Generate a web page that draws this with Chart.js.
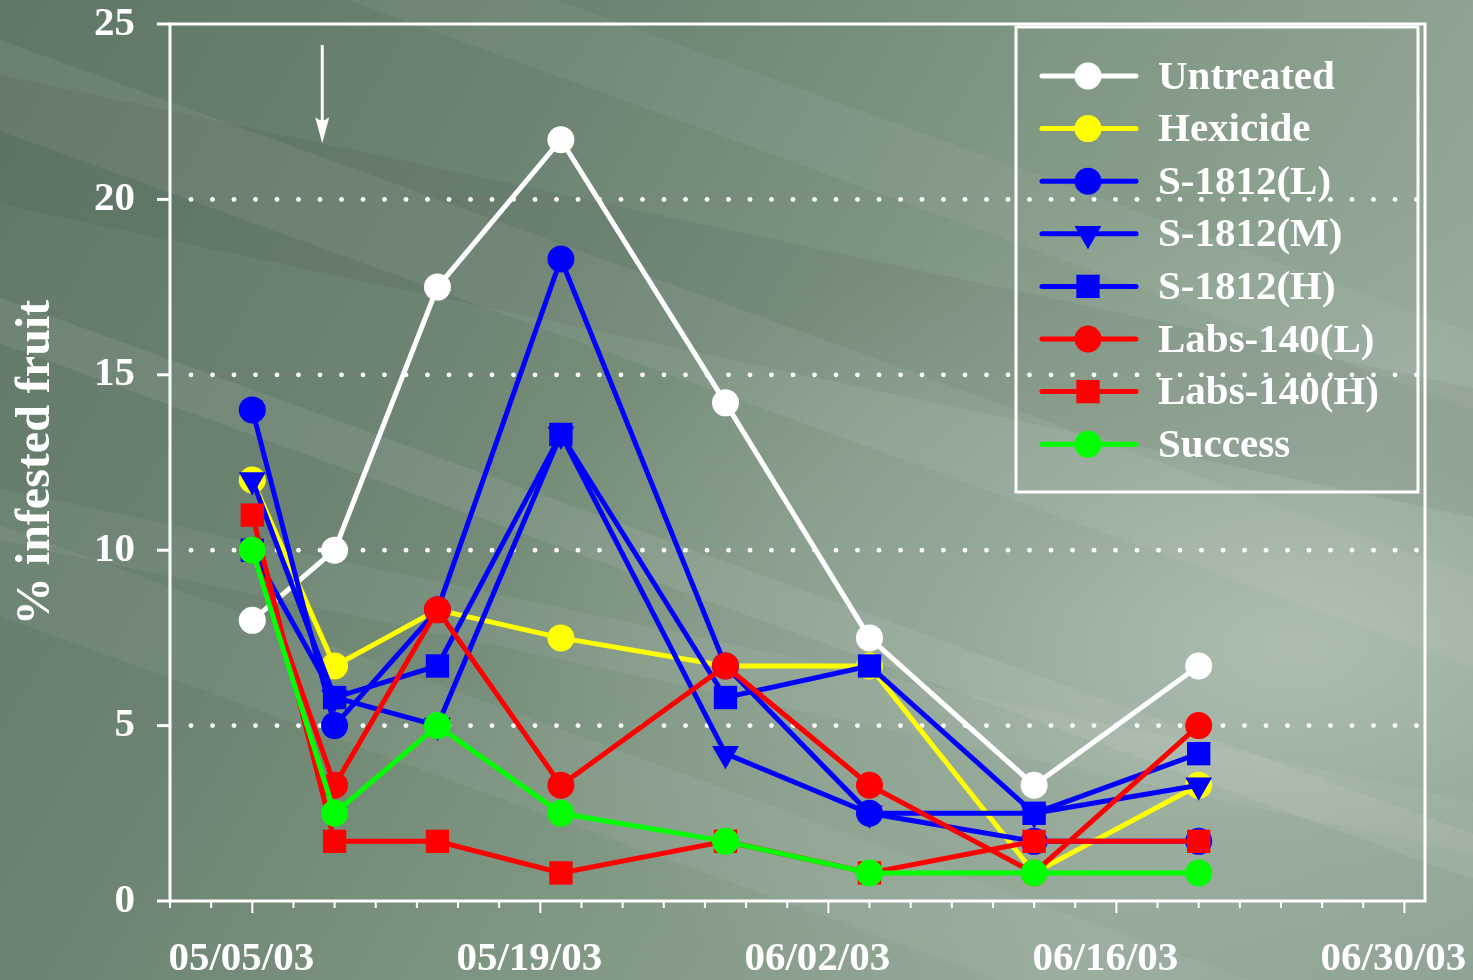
<!DOCTYPE html>
<html>
<head>
<meta charset="utf-8">
<script src="https://cdn.jsdelivr.net/npm/chart.js@4.4.0/dist/chart.umd.min.js"></script>
<style>
  html, body { margin: 0; padding: 0; }
  body {
    width: 1473px; height: 980px; overflow: hidden;
    background:
      linear-gradient(200deg, transparent 0 22%, rgba(255,255,255,0.05) 22% 27%, transparent 27% 38%, rgba(255,255,255,0.06) 38% 44%, transparent 44% 55%, rgba(255,255,255,0.07) 55% 58%, transparent 58% 70%, rgba(255,255,255,0.05) 70% 76%, transparent 76%),
      linear-gradient(192deg, transparent 0 30%, rgba(0,0,0,0.05) 30% 40%, transparent 40% 62%, rgba(255,255,255,0.05) 62% 66%, transparent 66%),
      radial-gradient(ellipse 55% 45% at 88% 66%, rgba(175,192,178,0.9) 0%, rgba(160,178,164,0.5) 45%, rgba(150,170,155,0) 100%),
      linear-gradient(120deg, #607766 0%, #6d8472 30%, #819884 55%, #94a897 80%, #8ca090 100%);
  }
  canvas { display: block; }
</style>
</head>
<body>
<canvas id="chart" width="1473" height="980"></canvas>
<script>
// --- data ---
const sampleDates = ['05/05/03', '05/09/03', '05/14/03', '05/20/03', '05/28/03', '06/04/03', '06/12/03', '06/20/03'];

const seriesNames = ['Untreated', 'Hexicide', 'S-1812(L)', 'S-1812(M)', 'S-1812(H)', 'Labs-140(L)', 'Labs-140(H)', 'Success'];

const untreated  = [8, 10, 17.5, 21.7, 14.2, 7.5, 3.3, 6.7];
const hexicide   = [12, 6.7, 8.3, 7.5, 6.7, 6.7, 0.8, 3.3];
const s1812L     = [14, 5, 8.3, 18.3, 6.7, 2.5, 1.7, 1.7];
const s1812M     = [12, 5.8, 5, 13.3, 4.2, 2.5, 2.5, 3.3];
const s1812H     = [10, 5.8, 6.7, 13.3, 5.8, 6.7, 2.5, 4.2];
const labs140L   = [10, 3.3, 8.3, 3.3, 6.7, 3.3, 0.8, 5];
const labs140H   = [11, 1.7, 1.7, 0.8, 1.7, 0.8, 1.7, 1.7];
const success    = [10, 2.5, 5, 2.5, 1.7, 0.8, 0.8, 0.8];

const seriesValues = [untreated, hexicide, s1812L, s1812M, s1812H, labs140L, labs140H, success];
const seriesColors = ['#ffffff', '#ffff00', '#0000ff', '#0000ff', '#0000ff', '#ff0000', '#ff0000', '#00ff00'];
const seriesMarkers = ['circle', 'circle', 'circle', 'triangle', 'rect', 'circle', 'rect', 'circle'];

const xStart = '05/01/03';
const xEnd = '07/01/03';
const majorTickLabels = ['05/05/03', '05/19/03', '06/02/03', '06/16/03', '06/30/03'];
const yTicks = [0, 5, 10, 15, 20, 25];
const yTitle = '% infested fruit';

// spray arrow (date offset in days, top and bottom in % units)
const arrowDay = 7.4;
const arrowTop = 24.4;
const arrowBottom = 21.6;

// --- helpers ---
function parseDate(s) {
    const [m, d, y] = s.split('/').map(Number);
    return Date.UTC(2000 + y, m - 1, d);
}
const baseTime = parseDate(xStart);
function dayOf(s) { return (parseDate(s) - baseTime) / 86400000; }

const majorDays = majorTickLabels.map(dayOf);
const minorDays = [];
for (let d = 0; d <= dayOf(xEnd) - 1; d += 2) minorDays.push(d);

const FONT = 'Liberation Serif';

function markerSize(style) {
    if (style === 'rect') return 16.5;
    if (style === 'triangle') return 15.5;
    return 13.5;
}

const datasets = seriesNames.map((name, i) => ({
    label: name,
    data: sampleDates.map((d, j) => ({ x: dayOf(d), y: seriesValues[i][j] })),
    borderColor: seriesColors[i],
    backgroundColor: seriesColors[i],
    borderWidth: 5,
    pointStyle: seriesMarkers[i],
    pointRotation: seriesMarkers[i] === 'triangle' ? 180 : 0,
    pointRadius: markerSize(seriesMarkers[i]),
    pointBorderWidth: 0,
    tension: 0,
    order: seriesNames.length - 1 - i
}));

// --- frame, ticks, dotted grid, arrow and legend ---
const decorPlugin = {
    id: 'decor',
    beforeDatasetsDraw(chart) {
        const { ctx, chartArea: a, scales: { x, y } } = chart;
        ctx.save();
        // dotted grid lines
        ctx.fillStyle = '#ffffff';
        yTicks.forEach(v => {
            if (v === 0 || v === 25) return;
            const py = y.getPixelForValue(v);
            for (let px = a.left + 21; px < a.right - 4; px += 21.5) {
                ctx.beginPath();
                ctx.arc(px, py, 2.4, 0, Math.PI * 2);
                ctx.fill();
            }
        });
        // frame
        ctx.strokeStyle = '#ffffff';
        ctx.lineWidth = 3;
        ctx.strokeRect(a.left, a.top, a.right - a.left, a.bottom - a.top);
        // y ticks
        yTicks.forEach(v => {
            const py = y.getPixelForValue(v);
            ctx.beginPath();
            ctx.moveTo(a.left - 13, py);
            ctx.lineTo(a.left, py);
            ctx.stroke();
        });
        // x ticks
        ctx.lineWidth = 2;
        minorDays.forEach(d => {
            const px = x.getPixelForValue(d);
            const len = majorDays.includes(d) ? 12 : 7;
            ctx.beginPath();
            ctx.moveTo(px, a.bottom);
            ctx.lineTo(px, a.bottom + len);
            ctx.stroke();
        });
        // arrow
        const ax = x.getPixelForValue(arrowDay);
        const ay1 = y.getPixelForValue(arrowTop);
        const ay2 = y.getPixelForValue(arrowBottom);
        ctx.lineWidth = 3;
        ctx.beginPath();
        ctx.moveTo(ax, ay1);
        ctx.lineTo(ax, ay2 - 18);
        ctx.stroke();
        ctx.beginPath();
        ctx.moveTo(ax - 7, ay2 - 26);
        ctx.quadraticCurveTo(ax, ay2 - 20, ax + 7, ay2 - 26);
        ctx.lineTo(ax, ay2);
        ctx.closePath();
        ctx.fill();
        ctx.restore();
    },
    afterDatasetsDraw(chart) {
        const { ctx, chartArea: a } = chart;
        ctx.save();
        const boxL = a.right - 409, boxR = a.right - 7;
        const boxT = a.top + 3, boxB = a.top + 468;
        ctx.strokeStyle = '#ffffff';
        ctx.lineWidth = 3;
        ctx.strokeRect(boxL, boxT, boxR - boxL, boxB - boxT);
        ctx.font = `bold 41px "${FONT}"`;
        ctx.textBaseline = 'middle';
        ctx.textAlign = 'left';
        chart.data.datasets.forEach((ds, i) => {
            const ry = a.top + 52 + i * 52.6;
            ctx.strokeStyle = ds.borderColor;
            ctx.fillStyle = ds.backgroundColor;
            ctx.lineWidth = 5;
            ctx.lineCap = 'round';
            ctx.beginPath();
            ctx.moveTo(boxL + 26, ry);
            ctx.lineTo(boxL + 120, ry);
            ctx.stroke();
            Chart.helpers.drawPoint(ctx, {
                pointStyle: ds.pointStyle,
                rotation: ds.pointRotation,
                radius: ds.pointRadius,
                borderWidth: 0
            }, boxL + 72, ry);
            ctx.fillStyle = '#ffffff';
            ctx.fillText(ds.label, boxL + 142, ry + 2);
        });
        ctx.restore();
    }
};

new Chart(document.getElementById('chart'), {
    type: 'line',
    data: { datasets },
    options: {
        responsive: false,
        animation: false,
        devicePixelRatio: 1,
        layout: { padding: { top: 24, right: 48, left: 0, bottom: 0 } },
        plugins: { legend: { display: false }, tooltip: { enabled: false } },
        scales: {
            x: {
                type: 'linear',
                min: 0,
                max: dayOf(xEnd),
                afterBuildTicks: s => { s.ticks = minorDays.map(v => ({ value: v })); },
                afterFit: s => { s.height = 79; s.paddingLeft = 0; s.paddingRight = 0; },
                grid: { display: false, drawTicks: false },
                border: { display: false },
                ticks: {
                    autoSkip: false,
                    maxRotation: 0,
                    padding: 34,
                    labelOffset: -11,
                    color: '#ffffff',
                    font: { family: FONT, size: 41, weight: 'bold' },
                    callback: v => {
                        const k = majorDays.indexOf(v);
                        return k >= 0 ? majorTickLabels[k] : '';
                    }
                }
            },
            y: {
                min: 0,
                max: 25,
                afterBuildTicks: s => { s.ticks = yTicks.map(v => ({ value: v })); },
                afterFit: s => { s.width = 170; s.paddingTop = 0; s.paddingBottom = 0; },
                grid: { display: false, drawTicks: false },
                border: { display: false },
                ticks: {
                    padding: 35,
                    color: '#ffffff',
                    font: { family: FONT, size: 41, weight: 'bold' }
                },
                title: {
                    display: true,
                    text: yTitle,
                    color: '#ffffff',
                    padding: { top: 8, bottom: 0 },
                    font: { family: FONT, size: 48, weight: 'bold' }
                }
            }
        }
    },
    plugins: [decorPlugin]
});
</script>
</body>
</html>
